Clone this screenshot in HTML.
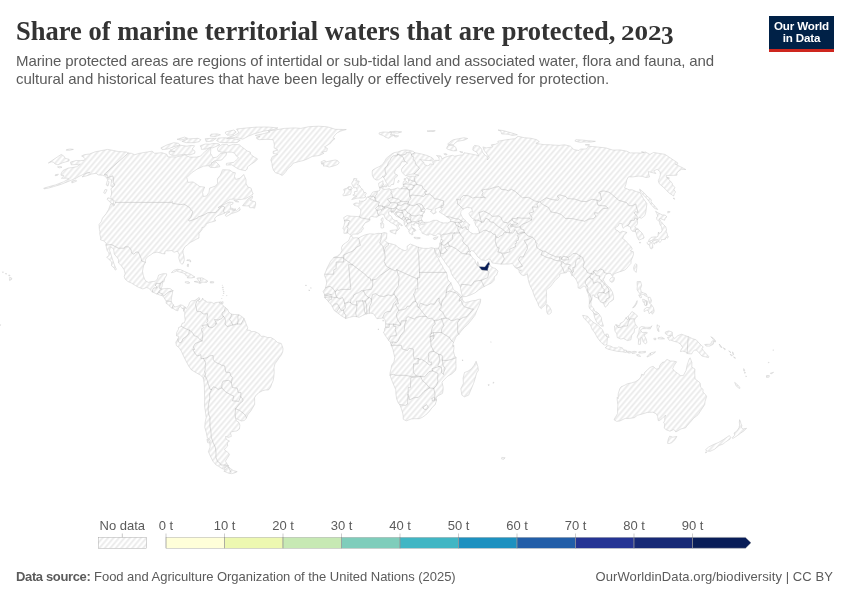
<!DOCTYPE html>
<html lang="en"><head><meta charset="utf-8"><title>Share of marine territorial waters that are protected, 2023</title>
<style>
html,body{margin:0;padding:0;background:#fff;}
body{width:850px;height:600px;overflow:hidden;position:relative;font-family:"Liberation Sans",sans-serif;}
#title{position:absolute;left:15.75px;top:13px;margin:0;font-family:"Liberation Serif",serif;font-weight:bold;font-size:28px;line-height:36px;color:#333;white-space:nowrap;transform-origin:0 0;}
#tm{display:inline-block;transform-origin:0 0;transform:scaleX(0.947);}
#yr{position:absolute;left:605.4px;top:2.3px;font-size:20.5px;transform-origin:0 0;transform:scaleX(1.32);}
#yr3{position:absolute;left:645.6px;top:4.9px;font-size:26px;transform-origin:0 0;transform:scaleX(0.97);}
#sub{position:absolute;left:16px;top:51.8px;margin:0;font-size:15px;line-height:18.2px;color:#5b5b5b;white-space:nowrap;}
#sub span{display:block;transform-origin:0 0;}
#s1{letter-spacing:-0.098px;}
#s2{letter-spacing:-0.03px;}
#logo{position:absolute;left:769px;top:16px;width:65px;height:33px;background:#002147;border-bottom:3px solid #ce261e;color:#fff;font-weight:bold;font-size:11.6px;line-height:11.8px;text-align:center;letter-spacing:-0.15px;}
#logo div{padding-top:4.2px;}
#foot-l b{letter-spacing:-0.36px;}
#foot-l{position:absolute;left:16px;letter-spacing:-0.03px;top:569px;font-size:13px;line-height:16px;color:#5b5b5b;white-space:nowrap;transform-origin:0 0;}
#foot-r{position:absolute;right:17px;letter-spacing:0.08px;top:569px;font-size:13px;line-height:16px;color:#5b5b5b;white-space:nowrap;transform-origin:100% 0;}
svg{position:absolute;left:0;top:0;}
.lt{font-family:"Liberation Sans",sans-serif;font-size:13px;fill:#5b5b5b;}
</style></head><body>
<svg width="850" height="600" viewBox="0 0 850 600">
<defs>
<pattern id="nd" patternUnits="userSpaceOnUse" width="8" height="4.17" patternTransform="rotate(-49.5) translate(0 0)"><path d="M -1,2 l 10,0" stroke="#eaeaea" stroke-width="1.8"/></pattern>
</defs>
<g id="map">
<path d="M107.7,149.4L113.5,150.5L118.6,151.6L126.3,152.0L128.2,153.1L131.3,153.3L134.7,154.7L139.6,153.3L145.9,152.2L152.2,151.2L154.6,153.3L162.0,152.7L166.9,154.4L167.8,156.9L176.3,156.9L180.5,156.0L184.9,154.9L189.7,157.1L196.5,157.1L200.8,156.0L203.0,153.3L209.2,148.2L210.8,148.2L210.7,151.2L210.5,153.3L211.6,155.1L213.0,157.8L216.9,157.1L220.5,153.3L226.8,152.7L225.9,155.5L221.7,160.0L217.9,160.5L214.1,160.9L210.7,164.6L207.3,165.8L203.4,166.2L196.8,169.3L191.6,172.8L186.8,177.6L187.9,182.4L193.0,181.9L195.7,183.6L199.8,186.6L204.7,187.1L202.5,192.3L203.4,196.5L206.6,196.0L209.0,192.3L209.6,188.1L215.4,186.1L217.6,183.6L217.4,178.8L220.3,175.2L222.6,169.7L229.6,170.0L232.9,172.3L235.4,172.8L234.4,176.4L235.7,179.5L240.1,178.1L243.7,174.5L246.0,179.5L246.1,183.6L247.7,186.8L251.1,188.1L251.9,191.0L253.2,194.0L250.2,196.0L245.3,198.8L240.0,199.6L234.2,199.1L230.1,199.3L226.2,201.8L220.6,206.2L218.0,207.7L223.1,204.9L229.1,202.1L233.1,202.4L232.9,203.9L230.1,205.1L230.7,207.4L230.7,209.5L233.5,210.5L236.5,210.8L239.5,207.4L240.2,210.0L237.2,211.8L231.5,213.6L226.5,216.4L225.3,215.6L226.2,213.8L230.0,211.8L227.8,212.0L224.6,212.6L224.3,213.3L219.6,215.1L217.3,215.9L215.2,217.7L214.6,219.0L215.7,220.8L213.3,221.6L209.9,222.4L206.3,223.7L205.8,225.5L203.3,228.1L202.0,227.3L202.2,229.4L199.6,232.8L198.6,233.3L199.1,233.5L198.9,236.9L199.0,238.0L196.1,239.3L193.0,241.1L190.3,242.4L187.5,244.8L184.8,246.8L183.1,250.2L183.0,252.9L183.9,256.0L184.3,259.9L183.3,263.3L181.8,264.3L180.1,262.3L178.7,257.6L179.3,254.7L177.7,251.5L176.4,251.5L174.0,252.3L171.8,250.5L168.4,250.8L166.2,250.8L164.9,251.5L165.0,253.9L162.2,253.6L160.1,252.9L157.0,252.1L153.0,253.1L150.8,254.7L146.9,257.3L145.4,259.9L145.4,262.3L143.5,265.9L142.5,271.1L143.2,275.1L144.5,279.0L145.6,280.8L148.3,282.4L151.8,281.6L155.3,281.3L157.4,279.0L158.6,275.1L163.1,273.7L166.5,273.7L166.7,275.1L164.8,278.2L163.8,282.1L162.7,281.6L162.4,284.2L161.9,286.8L160.5,288.4L162.3,288.9L166.9,288.4L170.3,288.6L172.8,290.7L172.4,293.3L171.6,297.3L171.1,301.2L172.5,303.8L174.2,306.4L175.8,306.9L178.1,306.1L180.5,304.8L182.7,305.4L185.2,307.2L186.2,308.7L188.5,305.6L189.6,302.5L191.5,300.9L195.0,300.4L197.6,298.6L199.1,297.4L199.9,299.1L198.2,300.6L198.8,301.7L199.7,301.4L201.9,299.9L202.7,298.0L203.3,299.9L205.9,300.9L206.6,302.2L211.2,302.2L213.8,303.5L215.5,302.5L220.8,302.0L218.9,302.7L221.8,304.3L223.4,305.6L225.2,307.7L227.4,309.0L228.7,311.9L231.4,314.2L234.4,314.5L238.7,314.8L241.2,316.1L244.0,318.4L245.5,322.1L246.6,325.2L247.8,327.8L246.8,329.9L250.1,330.4L251.7,331.7L254.7,331.5L259.3,333.8L260.9,336.4L263.9,336.2L267.4,337.5L270.9,337.5L274.4,339.6L277.4,342.4L281.3,343.5L282.5,346.9L283.0,348.7L282.8,351.3L281.5,354.7L279.3,357.6L277.6,360.2L274.9,363.9L274.0,367.8L274.2,371.7L273.9,376.4L273.1,380.8L271.9,383.4L270.5,387.4L268.4,390.0L265.1,390.0L262.4,390.8L258.9,392.6L255.8,395.7L254.5,397.8L254.7,401.7L254.6,404.6L252.4,408.3L250.6,411.4L248.3,414.0L246.4,417.9L244.4,420.5L241.3,421.0L236.5,418.7L235.9,420.3L239.0,422.6L239.9,425.2L239.4,429.1L236.9,430.9L231.7,431.7L230.5,433.0L231.4,436.4L228.3,437.4L225.5,436.4L226.4,439.5L229.5,441.1L227.3,442.6L227.7,446.0L225.8,447.8L224.4,449.8L228.5,452.9L229.5,454.7L227.3,458.2L225.4,461.2L228.4,465.8L226.5,466.3L224.2,467.3L224.6,469.5L221.5,468.3L218.6,466.3L216.1,465.0L212.9,461.2L210.4,456.2L208.4,451.6L210.1,447.2L209.8,443.4L210.2,440.3L208.9,438.7L207.4,438.2L206.4,433.0L204.8,427.3L205.1,422.6L206.2,417.4L205.3,410.9L204.5,405.6L204.7,399.1L204.5,392.6L204.3,384.7L203.4,378.0L200.4,375.1L196.7,373.0L191.4,369.9L188.6,365.9L186.1,361.2L183.5,356.0L181.4,351.3L179.2,347.7L176.4,345.6L175.8,342.2L178.0,338.8L178.9,336.4L176.5,335.9L176.7,332.5L178.3,329.6L178.6,327.5L181.1,326.5L181.4,325.2L182.3,323.1L184.4,322.8L185.2,320.0L184.6,315.5L184.9,312.1L183.8,311.1L183.3,308.2L182.6,309.0L180.4,306.4L178.5,308.2L177.9,310.8L175.6,310.1L172.7,308.2L170.7,307.4L168.3,304.6L166.1,303.3L166.2,301.2L163.8,297.3L162.8,295.9L159.4,294.9L156.1,293.6L152.4,292.0L148.7,288.1L146.5,287.6L142.9,288.9L138.5,287.3L135.4,285.5L131.2,282.9L128.0,281.6L125.0,279.0L124.2,276.4L125.1,273.7L124.2,269.8L121.5,265.9L118.4,262.8L118.5,259.4L116.8,257.0L114.3,254.2L113.6,248.9L110.6,246.8L109.5,250.2L110.9,254.2L112.1,258.1L113.4,262.0L114.8,265.9L116.4,269.3L115.1,270.1L114.7,268.5L111.5,265.7L111.8,262.0L109.4,259.9L107.3,257.6L106.7,257.3L109.0,255.5L108.9,252.9L107.2,250.5L106.3,247.1L106.0,245.0L106.2,243.2L104.4,241.6L103.4,240.8L100.5,239.8L100.8,238.0L99.8,234.3L99.9,231.2L99.4,229.9L99.2,226.8L99.1,224.4L101.3,221.6L102.4,218.2L106.0,213.8L108.6,209.5L110.7,203.9L114.0,204.1L113.7,206.2L115.5,202.4L115.2,201.6L113.2,199.8L110.6,197.3L111.5,194.0L111.5,191.0L110.8,188.8L113.1,186.8L110.8,186.1L111.1,183.6L111.6,180.0L109.9,178.8L107.4,179.5L106.5,177.6L104.7,176.1L102.4,175.2L98.0,174.9L96.2,173.3L91.7,174.0L87.1,175.7L82.1,176.9L86.1,173.3L89.9,172.3L87.5,172.8L82.7,174.7L79.0,176.4L76.2,178.1L69.0,181.2L60.9,184.4L53.7,186.6L48.3,188.1L44.6,188.8L43.6,188.3L46.1,187.5L50.2,186.3L55.6,184.9L63.8,181.7L68.8,178.8L66.9,178.1L61.4,178.3L64.1,175.7L60.9,175.2L61.4,172.8L63.1,170.4L68.2,168.1L72.1,167.6L76.8,166.7L80.4,164.1L75.9,164.6L71.2,164.8L70.5,162.1L76.2,160.5L80.2,160.7L84.2,160.3L85.2,158.9L83.9,157.3L81.6,156.0L84.3,154.7L89.5,154.0L95.2,151.8L102.0,150.5ZM228.5,466.8L229.6,468.0L233.2,470.5L237.2,471.7L235.1,472.7L231.7,473.7L228.6,473.2L223.8,471.2L225.2,470.0L226.2,468.8L225.3,467.3L226.7,466.8ZM255.3,135.4L264.3,133.5L270.1,131.9L268.0,131.0L276.1,129.8L284.3,128.4L294.4,127.9L300.9,128.4L308.8,126.7L318.5,126.2L326.5,126.7L330.2,127.6L335.2,129.3L346.3,129.5L340.4,131.2L337.1,132.9L335.2,134.8L333.0,137.7L335.0,138.7L332.3,140.7L331.0,142.7L328.2,144.8L324.5,146.9L327.4,148.4L326.8,151.2L321.7,152.2L323.9,153.3L319.2,155.5L312.3,156.4L307.3,158.9L303.5,160.5L298.8,161.6L293.1,163.2L291.4,165.8L287.8,168.6L285.9,171.6L283.0,174.9L282.0,175.4L278.8,173.7L275.5,172.8L273.6,170.4L272.3,166.9L272.0,163.4L270.8,160.0L272.3,156.7L277.6,154.4L273.0,153.3L273.3,151.2L277.9,150.1L274.1,147.9L274.3,144.8L273.8,141.7L272.8,139.7L267.0,139.3L259.1,139.7L256.8,138.7L256.5,137.3L260.0,136.7ZM245.5,170.7L240.6,169.7L237.6,168.6L234.9,166.9L231.7,164.8L226.3,165.1L226.4,163.4L234.1,162.3L236.3,160.0L238.6,157.8L236.3,156.0L234.7,153.3L232.1,152.2L227.2,152.2L222.2,152.2L218.1,151.2L217.4,149.0L218.4,146.9L222.3,144.4L227.2,144.2L228.2,145.8L233.4,144.4L235.8,144.4L239.4,144.8L241.3,146.5L244.4,148.8L247.1,150.9L250.4,152.2L250.7,154.4L254.3,157.1L257.6,158.9L255.6,161.2L251.6,163.9L247.4,166.9L247.2,169.0ZM171.9,149.6L180.2,145.2L187.0,146.2L191.1,145.4L194.6,145.8L192.2,149.0L195.0,151.2L194.7,153.3L189.9,154.9L183.6,154.4L177.7,155.3L171.8,155.3L169.2,153.8L169.0,151.6L174.8,151.6L169.8,150.1ZM160.9,147.9L167.2,144.8L173.8,142.7L178.5,143.3L179.9,144.8L173.4,146.9L167.7,149.0L162.1,149.6ZM211.1,162.8L215.4,161.6L217.1,163.0L219.2,165.1L219.9,166.7L214.9,167.6L210.6,167.4L208.7,166.2L211.9,164.6ZM200.2,145.8L205.3,144.0L209.9,144.2L212.9,143.5L218.2,143.7L219.9,144.8L212.6,147.9L209.8,147.5L206.0,149.0L201.5,149.4L201.1,147.3ZM181.9,141.3L188.2,138.9L198.1,138.3L200.9,139.7L199.2,141.7L194.1,142.7L186.3,142.7ZM205.2,138.7L211.8,138.3L216.3,138.3L212.3,141.1L206.2,141.7ZM218.1,138.1L224.5,137.7L234.1,138.7L240.3,140.1L237.3,142.5L228.6,142.7L219.6,142.3L216.6,140.7ZM226.5,138.7L235.5,137.3L242.8,139.1L248.6,136.1L253.8,133.9L263.6,131.2L273.6,129.5L277.9,127.9L267.8,127.0L256.7,127.1L246.0,128.0L236.5,129.0L238.0,131.2L238.8,132.9L234.8,135.2L230.1,136.7ZM225.5,132.0L233.9,130.0L236.2,132.0L233.0,134.8L227.4,135.2L225.3,133.3ZM211.0,134.2L217.3,133.9L220.5,134.8L215.4,136.5L210.0,136.1ZM177.0,139.3L184.7,137.1L187.6,138.3L180.5,140.1ZM242.5,205.7L245.2,202.4L248.4,198.6L252.6,196.0L252.2,198.6L250.2,200.3L252.6,201.1L255.4,201.8L255.7,204.1L254.6,208.2L252.7,207.7L249.7,207.7L249.2,205.9L246.1,205.9ZM233.9,200.1L237.6,200.8L238.8,202.1L235.3,201.6ZM231.6,208.0L233.9,209.0L236.0,209.0L234.7,210.0L232.1,209.5ZM107.9,197.8L110.7,198.6L112.8,199.8L113.8,202.9L113.0,204.1L110.7,202.9L108.9,201.1L107.2,199.3ZM105.0,189.6L107.1,189.8L105.2,193.5L103.7,192.8ZM71.8,181.2L76.0,180.0L76.5,181.2L71.9,182.9ZM107.4,180.5L109.1,181.7L108.0,186.1L106.2,184.9ZM171.4,272.7L173.7,270.4L177.2,269.3L180.6,269.6L183.7,271.1L188.0,273.0L191.2,274.5L195.0,277.1L192.0,277.9L187.2,277.9L188.3,276.1L185.9,275.6L184.6,273.5L181.3,272.4L178.5,271.7L176.3,270.9L173.9,272.2ZM194.1,281.6L197.2,282.4L200.0,283.4L202.9,282.1L206.7,282.4L207.8,281.1L205.2,279.5L202.2,277.9L198.1,277.9L196.9,278.4L198.5,280.3L198.4,281.3L196.2,281.3ZM185.2,281.8L188.2,281.6L189.9,282.9L188.0,283.4L185.3,282.6ZM210.4,281.6L213.8,281.8L213.5,282.9L210.3,282.9ZM221.3,302.0L223.1,301.7L223.0,303.5L221.2,303.5ZM187.6,264.1L188.5,264.1L188.4,266.7L187.1,266.2ZM189.7,259.6L190.6,260.7L190.7,262.0L189.8,261.5ZM187.0,259.9L189.0,259.9L188.6,260.7L186.7,260.4ZM206.9,439.2L208.5,439.5L209.5,443.1L207.6,442.6ZM9.7,277.1L11.8,278.2L11.5,279.5L9.6,280.5L9.4,278.7ZM8.6,275.1L10.1,275.3L9.3,276.1ZM5.4,273.5L6.7,273.7L5.9,274.3ZM2.4,271.9L3.5,271.9L2.9,272.7ZM57.5,166.9L61.1,166.5L62.0,167.4L59.2,167.8ZM55.4,174.7L58.4,174.2L57.5,175.4L55.2,175.7ZM222.2,287.3L223.4,287.1L222.8,288.1ZM222.8,289.2L223.3,289.4L223.0,290.2ZM223.3,291.2L224.1,291.5L223.7,292.3ZM223.5,293.2L223.8,293.6L223.4,294.0ZM226.6,295.2L227.0,295.6L226.6,295.8ZM221.6,298.0L221.9,298.3L221.6,298.6ZM222.9,295.0L223.2,295.3L222.9,295.6ZM222.2,285.1L222.6,285.2L222.3,285.5ZM435.1,251.5L434.4,248.4L438.5,248.2L439.6,245.8L439.8,243.7L440.6,241.4L441.2,238.5L440.5,235.1L441.3,234.1L439.8,234.3L437.8,233.8L436.0,235.4L433.7,235.6L431.1,234.1L429.1,233.8L428.9,235.1L426.5,235.1L424.0,233.8L422.2,233.3L421.8,231.5L419.9,229.6L420.4,228.1L418.9,226.8L418.8,225.5L421.5,224.4L424.6,224.2L425.1,222.9L424.4,222.4L424.2,222.9L421.3,222.9L419.9,223.9L418.7,224.7L418.3,223.7L416.0,223.1L414.7,223.1L414.0,224.4L414.7,225.2L412.8,225.0L411.7,224.2L411.2,225.5L412.2,227.3L412.7,228.9L414.6,230.2L414.7,231.5L413.4,230.9L412.8,232.2L412.8,234.6L411.7,234.8L410.6,233.8L409.9,233.8L408.7,231.2L409.2,230.2L408.1,229.4L407.3,228.1L406.1,226.5L405.4,225.7L404.3,224.4L404.1,222.1L404.2,220.8L403.0,219.8L401.9,219.3L399.7,217.7L396.5,216.4L394.7,214.6L393.9,212.6L392.6,211.8L391.9,213.1L391.1,211.3L390.1,210.8L388.5,211.8L388.8,214.4L391.5,216.4L392.9,219.3L395.3,220.6L397.2,220.6L396.9,221.8L399.5,223.1L402.4,225.2L402.0,226.0L399.6,224.4L399.0,224.4L398.2,226.3L399.6,228.1L398.5,229.6L396.8,230.9L396.8,230.2L397.5,228.1L396.5,225.5L395.0,225.0L393.6,223.9L392.7,223.4L390.6,222.4L388.8,220.8L386.2,219.3L385.1,217.7L384.3,215.4L382.8,214.4L381.6,214.1L379.7,215.4L378.5,215.9L376.9,217.2L374.4,216.9L371.9,216.4L369.6,217.5L369.8,219.3L369.8,220.6L367.7,221.8L365.0,222.9L363.7,225.0L362.5,226.8L363.5,228.6L361.8,230.7L361.6,231.7L359.2,232.8L358.3,234.1L353.6,234.1L351.4,235.6L349.5,234.3L348.0,232.8L346.1,233.3L343.9,233.3L344.2,229.6L342.8,228.6L344.0,225.5L344.7,222.4L344.4,220.0L343.6,217.7L346.0,216.2L347.1,215.6L351.0,216.2L355.2,216.4L359.3,216.7L360.6,213.6L360.8,211.0L360.6,209.5L358.8,207.4L357.4,206.2L354.4,205.4L353.4,203.9L356.0,202.9L359.1,203.4L359.9,203.1L359.5,200.6L360.7,201.3L363.3,201.1L366.1,199.6L366.3,197.8L368.1,197.0L369.6,196.3L371.0,195.0L372.3,192.5L373.7,191.8L376.6,191.3L379.1,190.8L380.0,190.1L379.7,187.6L378.8,185.9L378.7,183.2L381.1,181.9L383.0,180.7L382.9,183.6L383.9,184.1L382.3,186.1L381.8,187.3L382.4,188.6L384.4,189.3L386.6,189.3L389.2,188.6L390.9,189.8L394.1,189.1L397.8,187.8L399.5,188.8L401.4,188.6L401.7,187.6L403.5,186.6L403.1,182.9L403.8,181.2L405.6,180.7L407.2,182.2L408.7,182.4L408.8,179.3L406.9,178.3L406.7,177.1L409.0,176.4L412.1,176.1L414.9,176.4L416.5,175.2L418.8,175.4L416.4,174.5L414.4,174.0L410.8,174.2L408.9,174.9L405.6,175.7L403.8,174.2L401.9,172.3L401.4,169.3L403.1,166.7L406.1,163.9L407.6,163.2L405.2,161.6L401.7,161.8L400.6,164.4L399.5,166.2L396.3,168.6L394.7,171.6L394.6,173.5L397.7,175.2L396.7,176.9L394.5,178.5L394.2,181.2L393.6,184.4L391.2,184.6L390.4,186.3L388.1,186.3L387.5,184.4L385.7,181.5L384.2,178.1L383.5,177.3L382.7,175.9L382.2,177.3L380.8,178.1L378.5,179.8L376.2,180.0L373.7,178.3L372.3,175.2L372.2,171.6L372.7,170.0L375.6,168.3L378.6,166.9L380.8,165.8L382.9,163.7L384.8,161.2L386.2,158.4L388.2,156.7L390.1,155.3L392.3,153.6L394.6,152.5L397.9,152.0L401.7,150.5L405.3,149.9L409.0,150.3L413.4,151.4L414.6,152.7L418.1,153.3L421.7,154.0L427.2,155.5L432.2,157.8L433.7,159.6L431.5,160.7L427.1,160.5L422.6,160.0L419.8,159.3L421.0,160.5L423.8,162.3L424.4,164.6L427.7,165.8L429.7,165.1L429.8,163.9L433.5,164.4L432.6,161.6L435.6,160.3L439.2,160.5L439.0,157.8L436.5,155.5L440.9,156.0L442.0,158.9L444.8,157.3L447.8,156.4L452.4,155.3L454.5,156.2L459.1,155.3L463.1,154.9L464.1,152.7L471.0,154.0L475.7,154.9L478.9,156.0L476.7,152.2L472.8,150.1L473.2,146.9L474.6,145.4L479.2,146.2L481.6,149.0L482.5,152.2L485.4,155.5L488.1,157.1L487.3,160.0L489.3,157.8L487.2,154.4L484.0,150.1L482.9,146.9L486.1,147.9L489.0,147.5L492.5,146.9L491.3,144.8L495.8,144.2L498.4,142.7L497.8,141.3L504.3,140.1L509.5,139.3L514.9,138.7L518.0,136.3L524.3,137.7L531.1,138.3L536.7,139.7L539.4,141.7L535.9,143.3L540.8,144.2L543.7,144.6L550.3,144.8L559.0,145.4L564.6,144.8L570.4,146.2L573.9,149.6L579.0,150.5L580.4,149.0L586.1,149.0L587.9,147.3L588.1,146.2L592.4,146.5L598.1,147.1L605.8,147.9L612.9,150.1L620.0,149.9L626.8,151.2L630.1,152.9L636.0,152.9L641.3,153.1L645.4,152.0L649.9,154.4L653.6,152.5L660.3,153.6L665.0,154.4L677.9,163.0L677.3,164.4L675.2,164.1L680.8,166.9L685.8,169.5L681.4,169.3L679.1,170.9L677.0,172.8L676.9,175.2L670.2,175.4L666.5,175.4L666.2,177.1L669.9,180.5L672.2,183.2L672.5,184.9L674.8,187.3L673.9,189.8L675.7,192.0L674.4,193.3L673.7,196.0L668.8,192.8L664.9,188.6L659.2,183.6L658.3,180.5L659.7,177.6L660.4,174.5L660.0,171.6L657.1,169.3L653.7,170.9L655.9,173.5L648.2,171.6L649.2,175.7L649.6,176.9L645.8,177.6L642.6,176.4L638.7,176.1L632.9,176.9L628.3,176.9L626.8,180.0L626.0,184.1L624.6,187.8L629.2,189.8L632.1,189.8L636.8,191.8L639.8,192.3L641.3,194.8L643.4,198.6L646.9,203.6L646.3,208.0L645.9,211.8L644.8,215.6L641.6,218.2L638.9,217.5L637.7,219.3L637.3,220.8L637.6,223.1L636.7,225.0L634.7,226.5L635.3,227.6L638.0,229.1L642.0,233.0L643.6,235.9L644.1,238.0L641.7,239.0L638.9,240.1L637.2,237.2L636.4,233.8L635.5,231.5L632.3,231.2L630.7,229.1L630.3,227.0L627.7,225.7L625.1,226.5L623.1,228.3L622.1,225.5L622.0,223.7L619.3,223.4L618.1,226.0L615.1,227.8L615.3,229.6L618.3,230.9L619.5,232.8L622.5,231.2L627.1,232.5L624.6,234.6L623.7,235.9L622.6,238.5L625.4,240.6L628.1,243.7L631.1,246.6L632.3,249.2L630.2,250.8L633.4,251.8L633.4,254.7L632.7,256.8L631.1,260.7L631.0,263.3L628.7,265.9L626.6,268.5L624.6,270.1L621.0,271.4L619.3,271.9L616.1,273.0L613.0,274.5L612.9,276.6L611.5,275.3L610.8,273.5L607.8,273.5L605.1,275.1L604.8,276.9L603.2,279.8L605.3,283.4L608.1,286.5L610.1,288.1L612.4,292.0L613.6,296.5L613.5,299.6L610.9,301.4L608.7,302.7L608.0,304.8L605.2,307.2L603.8,304.3L603.0,302.7L600.7,302.2L599.0,299.3L597.3,297.8L594.4,296.7L594.0,294.9L592.0,295.2L592.1,298.6L591.0,301.7L591.0,305.6L593.5,308.0L594.6,311.1L597.0,312.1L599.1,314.2L601.3,317.4L601.7,320.8L602.9,324.2L603.4,326.2L601.6,326.2L598.3,323.9L596.7,322.1L595.2,318.9L594.1,315.5L593.8,312.9L592.3,311.1L589.6,308.5L589.0,306.4L589.4,302.5L589.3,298.6L588.5,294.6L587.0,291.2L585.8,287.3L584.0,285.8L582.0,287.3L580.5,288.6L578.1,287.9L578.1,284.2L576.5,280.3L575.0,277.9L572.4,275.3L571.0,273.5L570.2,271.4L567.7,270.9L566.4,272.7L564.1,273.0L561.9,273.2L559.8,274.0L559.6,276.1L558.0,277.9L555.9,279.5L553.0,283.2L550.6,286.5L547.9,288.6L546.2,290.2L546.6,294.6L546.2,298.6L546.3,303.0L544.6,305.6L542.8,306.7L541.3,308.7L538.9,306.4L537.6,302.5L535.5,298.6L533.8,294.6L532.6,290.7L530.6,286.8L529.1,282.9L528.3,279.8L527.7,276.4L527.4,273.7L526.4,274.5L523.8,275.6L521.4,274.8L518.8,271.7L521.6,270.1L518.7,270.4L517.3,268.3L515.0,267.5L513.5,264.9L512.2,263.6L507.8,264.1L502.2,264.1L501.3,264.1L496.5,263.6L492.0,262.8L490.5,259.6L488.8,259.1L485.6,260.4L481.6,259.9L477.9,257.0L476.0,254.2L473.8,251.3L471.5,250.5L470.5,251.5L469.6,252.9L470.8,255.5L472.9,258.1L475.1,260.4L475.6,262.8L477.2,265.1L477.7,261.7L478.9,264.6L478.9,266.4L481.2,266.7L484.6,267.0L485.6,265.9L487.2,263.8L488.5,262.0L489.3,261.2L489.7,264.6L490.6,266.4L493.7,268.0L495.5,268.5L498.0,271.1L496.6,275.1L494.4,276.6L494.1,280.3L491.6,282.9L488.9,284.2L486.1,285.5L482.1,287.6L478.4,290.2L475.1,292.8L471.8,294.4L466.2,296.5L462.7,296.7L462.0,294.6L460.9,290.7L460.4,286.8L459.1,284.2L456.2,280.3L453.0,276.4L451.5,273.7L449.8,268.5L446.9,265.1L444.8,262.0L442.3,258.1L440.6,256.3L440.7,252.9L439.6,257.3L437.6,255.5L435.6,252.1ZM61.2,154.4L63.8,156.0L65.3,158.4L69.1,159.3L69.1,160.9L62.6,162.8L58.0,164.8L54.9,163.9L53.6,162.3L51.7,161.8L48.3,163.0ZM66.5,149.6L70.1,149.0L73.4,149.4L69.5,150.3L66.3,150.3ZM351.7,199.6L354.7,198.8L357.1,198.1L360.1,198.1L363.7,197.8L365.9,196.8L364.7,196.0L366.4,193.3L365.6,192.5L363.7,192.3L363.3,190.8L362.7,189.3L360.8,188.1L360.0,186.1L358.9,184.9L357.0,184.9L358.2,183.6L359.3,181.2L356.5,180.7L355.6,181.0L357.1,178.8L353.8,178.5L353.3,180.5L352.1,182.4L351.7,183.6L352.6,185.4L353.1,186.6L353.8,187.8L356.4,187.6L356.9,189.6L357.2,191.3L354.7,191.5L354.3,192.8L355.0,194.0L352.8,195.0L354.6,195.8L356.8,196.3L356.2,196.8L354.2,197.0ZM343.3,195.8L346.3,195.5L350.5,194.3L351.2,191.8L351.1,189.8L352.3,188.6L351.2,186.8L348.7,186.6L346.7,188.3L343.7,189.3L344.5,191.5L344.4,193.3L342.8,194.5ZM320.8,162.1L324.2,160.3L326.6,161.8L331.1,160.7L335.5,160.0L337.7,160.7L339.3,163.0L337.0,164.8L332.9,166.2L329.2,167.1L325.9,166.0L323.0,166.0L324.3,164.8L321.0,163.7L323.7,163.2ZM379.0,132.9L383.2,132.0L387.5,132.2L392.0,132.9L390.2,134.4L394.8,135.0L391.4,136.3L388.8,138.3L385.6,137.3L383.1,135.5L379.2,134.2ZM389.5,131.7L395.8,131.3L401.7,131.9L397.8,133.1L392.7,132.8ZM394.1,135.4L398.7,135.9L396.8,137.1L394.5,136.7ZM446.6,148.4L447.7,145.8L449.7,145.0L453.0,145.2L455.8,147.3L456.8,150.7L453.6,150.9L450.8,150.3L448.0,149.4ZM447.6,144.2L450.1,141.7L453.4,139.7L458.7,138.7L464.0,137.7L467.7,138.5L464.4,140.1L457.6,141.3L454.9,143.1L453.5,144.8L450.5,145.0ZM427.0,131.0L430.9,130.5L435.3,130.8L433.0,131.5L428.7,131.5ZM501.6,133.9L501.0,131.2L498.0,130.0L502.9,130.5L512.2,133.1L517.4,134.8L512.3,135.4L507.9,134.2ZM574.9,141.1L575.8,139.7L582.6,140.1L588.2,140.7L595.4,141.3L590.5,142.1L584.0,141.9L579.9,142.3ZM585.2,144.8L589.3,144.4L589.3,145.4ZM639.6,189.1L643.5,192.3L646.9,196.0L651.4,199.8L651.0,201.8L654.9,206.2L657.7,209.5L654.9,208.5L651.7,205.4L648.8,201.1L645.8,197.3L641.8,193.5L640.0,191.0ZM659.1,221.6L660.5,220.8L658.9,219.0L660.8,218.7L664.6,220.3L665.4,217.7L667.0,216.9L665.1,215.1L662.4,214.9L658.9,213.3L655.6,211.3L657.0,213.8L657.8,216.4L656.7,217.2L656.8,219.3ZM661.3,221.8L663.2,224.2L665.8,226.8L666.5,229.9L666.1,231.2L667.1,233.5L667.6,235.9L668.4,236.7L667.5,238.2L666.6,237.4L665.6,238.0L665.3,239.3L664.2,239.5L661.5,239.5L661.7,240.3L660.8,241.4L660.2,242.4L658.2,241.4L657.6,239.5L654.9,239.3L652.1,240.3L649.1,241.1L648.6,240.3L649.4,239.3L651.2,237.4L654.5,236.9L656.6,236.9L657.9,236.4L658.2,233.5L658.5,232.0L658.7,233.5L661.3,232.2L662.1,230.2L661.5,226.8L659.8,224.2L659.5,222.4ZM649.0,241.4L651.1,242.1L652.6,244.2L652.8,247.9L651.5,248.7L650.2,248.2L649.5,245.0L647.6,244.2L647.0,242.7L648.1,241.6ZM652.4,241.1L655.4,240.3L657.5,241.6L656.9,242.9L654.8,242.7L654.6,244.2L653.0,242.9ZM635.7,263.8L637.0,264.6L636.7,268.5L636.1,272.4L634.1,270.4L633.6,267.7L634.7,264.6ZM609.7,279.5L611.2,277.7L614.4,277.7L614.0,280.8L612.0,282.4L610.0,281.3ZM546.6,304.6L547.6,304.8L549.8,307.4L551.3,310.3L551.2,312.7L549.6,314.0L547.8,314.2L546.8,312.1L546.6,309.0ZM389.9,230.7L392.1,230.2L396.5,229.9L395.9,232.8L395.7,234.1L394.2,233.5L390.0,231.7ZM380.5,223.1L382.5,222.4L383.7,224.2L383.6,227.6L382.3,228.1L381.0,227.8L380.9,224.7ZM381.1,219.0L382.8,217.7L383.1,219.8L382.7,221.8L381.4,221.1ZM414.1,237.2L416.3,237.4L420.2,237.7L420.1,238.5L416.8,238.8L414.2,238.0ZM433.3,238.2L434.8,237.4L438.1,236.7L437.0,238.5L435.0,239.5L433.7,239.3ZM397.6,182.4L398.6,180.2L399.1,181.2L398.2,182.7ZM384.5,185.6L386.0,184.6L387.2,185.6L386.6,186.8L384.6,186.8ZM381.9,186.1L383.6,186.1L383.9,187.1L382.3,187.1ZM404.0,178.8L406.0,178.5L405.6,179.5L404.4,180.0ZM412.7,228.1L414.9,229.1L415.9,230.7L414.5,229.6ZM443.8,153.8L446.2,153.6L447.1,154.7L445.0,154.9ZM459.7,151.6L463.0,152.0L462.1,152.9ZM673.1,198.3L674.3,198.1L674.6,199.3ZM667.8,211.3L670.2,211.8L667.8,213.1ZM666.9,177.3L669.3,177.8L669.1,178.8ZM639.2,242.4L640.7,242.4L640.2,243.2ZM641.3,152.0L643.4,151.8L643.9,152.7ZM435.1,251.5L434.4,248.4L431.4,247.6L428.8,248.4L423.8,248.4L418.6,247.4L414.8,245.8L410.2,244.0L407.1,246.3L407.3,249.5L405.1,250.8L401.8,249.5L397.2,246.8L396.1,245.3L392.0,244.0L388.3,243.2L386.1,241.9L384.9,240.6L386.6,238.5L386.8,233.8L386.8,233.0L385.1,232.8L384.2,232.5L381.4,233.5L378.2,233.3L374.5,234.1L369.6,233.8L365.3,234.8L360.9,236.7L358.3,238.2L356.6,237.7L353.3,238.0L351.6,236.1L350.3,236.4L349.4,239.0L348.3,241.1L345.6,242.9L342.7,245.0L341.5,247.6L341.9,250.5L340.5,253.4L337.5,256.0L334.1,257.3L330.6,261.2L327.1,268.0L324.7,274.3L324.5,275.6L326.1,279.0L326.7,282.9L325.5,288.1L323.1,291.5L324.7,294.6L324.8,297.8L327.5,300.4L329.1,302.5L331.6,305.1L332.8,307.7L334.3,310.6L336.6,312.1L338.2,313.4L341.7,316.1L345.8,318.4L349.3,317.4L353.9,316.3L357.3,316.8L359.0,317.4L362.6,315.5L365.9,314.0L368.9,313.2L370.9,313.2L373.5,313.7L375.3,316.3L376.9,318.7L379.2,318.4L382.2,318.1L383.6,318.1L385.0,319.7L385.7,323.4L385.5,327.3L384.6,328.6L384.6,331.2L383.4,332.0L385.0,335.1L386.8,337.7L388.5,340.1L390.5,342.4L391.4,345.6L393.0,349.5L393.7,352.9L394.8,357.3L394.0,362.0L391.7,365.2L391.0,369.1L390.0,373.0L390.0,375.1L391.5,379.5L393.6,384.7L395.8,389.7L395.9,393.9L396.7,399.1L398.3,403.0L399.8,404.6L401.2,408.3L402.7,413.0L403.2,416.1L403.2,419.2L405.6,420.5L406.6,420.8L411.1,419.0L414.4,418.7L419.2,418.7L422.2,417.4L425.7,415.0L429.3,411.4L431.8,408.0L435.2,404.6L436.6,400.2L436.1,397.5L438.3,395.7L442.5,393.4L443.1,390.0L443.1,386.8L442.0,382.1L444.8,379.0L447.3,376.4L451.9,373.8L455.5,370.4L456.1,367.8L455.9,363.3L456.0,357.8L454.5,355.5L453.5,351.6L454.0,347.7L452.7,345.6L453.2,343.0L454.4,340.6L456.0,336.7L458.8,334.3L461.1,331.2L464.6,327.3L467.6,324.7L471.4,320.0L474.8,315.5L477.0,310.3L479.1,305.6L480.4,302.5L480.7,299.1L478.9,299.3L475.5,300.4L472.1,300.9L468.7,301.7L465.3,302.7L462.9,300.6L462.2,299.6L462.3,297.8L461.8,296.7L460.4,295.2L458.0,292.6L454.9,290.7L453.2,289.2L452.4,286.8L450.9,282.9L448.9,281.1L447.5,278.7L447.3,275.1L446.2,272.4L443.5,268.5L442.4,265.9L439.9,262.0L438.6,258.6L436.6,256.0L435.2,252.9ZM476.1,361.2L477.9,366.5L478.4,370.4L476.6,373.0L475.6,376.9L473.6,383.4L470.8,390.0L468.6,395.2L464.4,396.8L461.9,395.2L460.8,388.7L463.4,383.4L463.1,378.2L464.5,372.5L468.0,371.2L471.6,368.6L474.1,365.2ZM453.4,345.0L454.1,345.6L454.0,346.6L453.4,346.4ZM382.7,320.2L383.6,320.2L383.2,321.3ZM462.2,359.9L462.9,359.9L462.6,361.0ZM493.2,382.1L494.0,382.7L493.3,383.4ZM488.2,384.5L489.3,384.7L488.6,385.8ZM308.8,289.9L309.7,290.2L309.2,291.0ZM305.5,285.2L306.4,285.2L305.9,286.0ZM310.7,287.6L311.3,287.9L310.9,288.4ZM378.1,328.9L378.8,329.1L378.3,329.9ZM501.8,457.4L505.1,457.7L504.0,459.2L501.6,459.0ZM490.8,341.7L491.2,341.9L490.9,342.4ZM690.1,357.8L691.9,362.5L691.8,367.2L695.0,369.1L694.7,373.0L695.1,379.0L697.6,380.8L700.1,382.9L700.7,387.4L703.1,389.4L702.9,392.1L705.6,394.7L706.6,396.5L705.1,401.2L704.7,404.6L701.4,409.6L698.0,414.8L693.7,418.2L690.6,421.8L686.9,426.0L685.6,427.8L681.0,428.9L675.8,432.0L674.4,429.9L673.5,429.6L670.0,431.2L666.5,429.9L664.2,428.1L664.8,423.9L663.6,422.9L664.7,420.5L664.8,417.4L665.6,415.0L662.5,418.2L659.1,420.8L658.2,420.5L657.7,416.6L656.6,414.0L652.9,412.2L647.3,412.4L642.3,414.0L637.4,415.3L634.3,417.7L629.6,418.4L625.2,418.4L619.8,421.0L616.5,421.3L614.0,419.7L615.3,417.4L617.6,413.5L617.6,409.0L617.9,404.9L617.2,399.9L617.2,397.3L618.2,398.6L618.2,393.9L619.8,388.7L621.1,386.8L624.2,385.5L627.5,383.7L631.5,382.9L635.1,381.9L638.9,379.5L640.9,376.9L641.6,374.3L643.8,375.1L644.6,372.5L647.3,369.9L650.0,367.5L653.1,366.2L655.5,368.6L656.1,369.1L659.0,368.6L659.9,365.2L662.1,362.5L664.5,361.8L667.0,359.4L670.3,361.0L673.7,361.2L676.6,361.8L674.3,365.2L672.7,368.6L674.5,371.2L677.6,373.3L680.5,375.6L683.3,375.6L686.1,370.4L687.1,365.2L688.0,362.5L689.4,358.6ZM669.7,436.1L672.8,437.2L676.9,436.4L675.1,439.5L671.9,442.6L669.1,443.6L667.6,443.4L667.9,440.8L668.6,438.2ZM739.6,419.7L740.4,421.3L741.0,423.9L741.8,425.5L741.4,427.8L743.3,428.9L746.6,428.3L744.0,430.9L740.8,433.0L737.4,435.6L732.7,438.5L732.2,437.7L734.8,435.1L734.0,433.0L736.7,431.2L739.0,427.8L739.6,425.2L739.3,422.1ZM729.4,435.6L730.7,437.4L729.8,439.2L725.4,442.1L722.9,444.2L719.2,445.4L714.5,449.3L710.2,451.3L707.3,451.1L705.5,449.8L708.4,447.2L713.1,444.7L718.3,442.6L723.5,439.5L727.3,436.9ZM705.8,451.8L706.9,452.1L705.4,452.9ZM665.3,332.0L668.8,330.9L672.2,332.0L672.6,336.4L674.8,338.5L677.9,335.6L681.4,334.3L684.8,335.4L688.2,336.7L692.8,338.8L696.2,339.8L699.0,343.0L701.6,345.6L703.3,347.1L701.9,348.2L703.5,350.8L706.6,354.2L708.7,356.5L708.5,357.6L705.2,356.8L701.8,356.0L699.8,353.4L696.6,350.3L694.4,350.0L692.6,352.1L691.7,353.9L688.3,353.7L686.1,352.1L682.8,351.1L680.4,351.6L681.3,349.0L682.6,347.7L680.9,344.5L677.6,342.2L674.2,341.4L670.8,340.1L669.2,340.3L667.4,337.5L670.9,336.4L671.7,335.4L668.2,335.6L665.3,333.6ZM704.7,344.5L707.4,344.3L710.4,344.3L712.2,340.9L714.1,341.1L713.2,344.3L709.6,346.1L706.2,346.1ZM710.8,336.7L713.5,338.3L715.7,341.1L715.2,342.2L713.0,339.0ZM719.2,344.0L721.1,346.1L721.9,347.7L720.4,346.9ZM723.3,347.7L725.5,349.2L724.7,349.7ZM728.8,350.8L730.9,352.4L730.0,352.4ZM730.1,354.2L732.4,355.5L731.3,355.8ZM732.6,351.8L733.7,354.7L733.0,354.7ZM733.7,356.8L735.6,358.1L734.4,358.1ZM743.7,368.6L744.7,370.4L743.7,370.9ZM744.7,371.7L745.5,373.0L744.6,373.3ZM745.8,375.9L746.6,376.4L745.8,376.6ZM734.7,382.4L737.5,384.7L739.8,387.4L739.9,388.4L737.9,387.6L735.8,385.3ZM766.5,375.6L769.3,375.6L769.1,377.2L766.5,377.4ZM770.3,373.3L773.5,372.2L772.0,373.8ZM582.6,315.3L587.7,316.3L590.1,319.5L593.7,322.6L597.2,324.7L600.7,327.8L602.6,329.9L604.1,333.8L607.5,337.7L607.1,341.7L606.8,345.0L604.0,345.0L600.4,341.7L597.1,337.2L594.9,333.0L592.0,329.1L590.5,325.2L587.2,321.5L583.9,318.1ZM605.2,347.7L607.6,345.6L610.6,346.1L613.5,347.7L617.4,347.9L618.6,346.9L622.5,347.9L623.1,349.7L626.5,350.3L626.3,352.6L622.2,351.8L617.2,351.3L612.7,350.3L608.1,349.2ZM614.5,326.0L616.1,324.7L619.6,326.0L620.2,323.4L623.6,321.5L625.8,318.1L629.1,315.5L631.9,311.6L634.1,312.9L637.7,316.1L635.0,318.7L634.4,320.8L635.2,323.9L637.6,327.3L634.6,328.6L634.1,332.5L631.8,335.1L630.9,339.8L627.4,340.6L623.6,338.5L620.8,339.0L617.2,337.5L616.8,333.8L615.0,331.2L614.6,328.6ZM639.5,327.8L641.7,326.5L645.7,327.3L650.3,327.3L651.9,325.7L650.3,328.9L646.8,328.6L642.9,328.6L640.4,329.9L642.2,332.5L646.8,332.3L647.5,333.0L644.0,334.9L646.2,339.0L647.0,342.4L645.3,344.0L643.1,341.7L642.1,337.7L640.9,337.7L640.4,344.3L638.3,344.3L638.6,339.0L637.0,337.2L638.8,332.5ZM657.1,324.7L658.3,325.7L659.7,326.0L658.4,328.6L659.1,331.7L657.7,330.7L657.0,327.3ZM658.2,337.7L661.7,337.2L664.6,338.8L661.6,339.0L658.2,338.8ZM653.8,338.3L655.9,338.3L655.8,339.8L654.0,339.6ZM646.9,356.8L649.2,354.2L651.6,352.6L655.6,351.8L653.8,353.4L650.2,355.5L647.8,356.8ZM638.8,351.8L641.3,351.8L645.5,351.3L645.4,352.6L641.2,353.1L638.7,352.9ZM631.7,351.8L634.5,351.3L636.7,351.8L635.5,353.1L632.0,353.4ZM636.5,354.7L639.2,354.7L640.5,356.5L637.5,356.0ZM626.6,351.3L628.9,351.3L631.2,351.8L630.4,353.1L627.9,352.9ZM637.1,281.6L640.7,281.6L641.6,285.5L640.5,288.6L641.2,292.0L643.2,292.8L646.3,293.9L647.3,296.7L645.4,295.9L643.4,294.4L640.4,294.1L638.8,292.6L637.0,289.4L637.3,286.8ZM651.1,304.3L653.5,307.7L654.2,311.1L653.4,313.2L652.1,314.2L651.5,311.6L649.1,313.7L648.4,310.8L646.8,310.1L644.1,311.6L644.2,309.3L646.8,307.4L649.3,307.7L650.4,306.4ZM647.9,297.3L650.2,297.3L651.5,300.6L650.6,303.3L649.4,303.3L648.7,300.4ZM642.6,299.1L645.2,299.9L646.6,302.5L646.2,305.9L644.5,305.1L644.3,302.2L643.1,302.2ZM646.4,300.6L647.6,301.2L647.1,305.1L646.4,305.1ZM632.6,308.0L635.3,304.3L637.2,300.6L637.0,303.0L634.8,306.7ZM638.7,294.9L640.7,294.9L641.5,297.5L640.1,297.8ZM605.7,334.1L608.0,334.1L609.1,337.5L607.3,337.0ZM-0.4,324.7L0.6,324.7L0.3,325.5ZM773.1,349.7L773.7,350.0L773.2,350.5ZM768.4,362.3L769.1,362.5L768.5,363.1ZM-32.4,364.9L-31.0,365.2L-31.5,365.9ZM-33.7,384.7L-32.9,385.0L-33.2,385.5ZM424.4,222.4L429.6,222.1L433.6,220.3L437.2,220.3L440.2,222.1L443.5,222.9L447.7,222.9L450.8,221.3L450.2,219.0L446.6,216.7L443.0,214.1L440.2,212.6L439.1,211.8L440.3,210.8L441.7,209.5L440.9,208.2L443.3,206.9L439.7,207.4L435.4,208.7L435.2,210.8L436.4,212.0L435.6,213.1L433.0,214.1L432.4,212.6L430.3,211.5L431.9,210.0L428.7,209.2L426.6,208.5L424.8,210.5L424.4,212.0L422.7,214.4L422.5,216.4L421.5,218.2L421.2,219.0L422.0,220.6L423.3,221.8ZM469.6,232.0L473.2,233.8L476.4,233.8L479.6,233.3L478.1,228.1L475.8,225.5L474.7,222.4L475.6,220.3L473.2,219.0L470.7,216.9L468.9,213.8L470.4,211.8L472.5,211.8L471.5,208.0L467.3,207.4L463.5,208.7L461.0,211.3L460.6,213.8L462.5,217.7L465.1,220.3L468.0,223.7L469.9,224.7L468.6,226.8L468.1,229.4Z" fill="url(#nd)" fill-rule="evenodd" stroke="#c9c9c9" stroke-width="0.5" stroke-linejoin="round"/>
<path d="M128.2,153.1L104.1,174.5L107.2,174.9L107.2,177.8L112.7,175.9L113.7,178.8L113.1,182.4L114.8,184.9L113.1,186.8M115.5,202.4L171.2,202.4L172.4,201.6L172.0,203.1L175.9,203.9L180.6,204.6L184.0,204.1L189.8,207.7L190.0,208.7L191.5,210.0L192.8,211.8L190.7,217.7L188.5,219.8L189.3,221.1L192.9,219.8L197.6,218.2L198.1,216.9L200.5,216.2L204.1,214.9L208.0,212.6L215.3,212.6L217.1,211.5L218.8,209.5L219.9,208.2L222.2,206.3L223.9,206.5L224.7,207.2L223.5,210.8L223.9,212.0L224.4,213.1M106.0,245.0L111.4,244.5L118.3,248.2L124.5,248.2L124.9,246.8L128.6,246.8L131.2,250.0L131.4,252.6L133.8,254.2L135.9,252.1L138.4,252.1L139.6,254.9L141.1,258.1L141.6,261.0L145.4,262.3M152.4,292.0L152.6,289.9L154.0,287.9L157.0,287.9L156.8,286.8L155.0,285.0L156.0,284.8L156.1,283.4L160.2,283.4L162.5,281.6M160.2,283.4L159.6,288.4L160.3,288.4M161.9,288.9L159.4,290.7L158.9,292.3L157.0,294.0M158.9,292.3L160.7,293.3L162.3,293.6L162.2,294.9M163.2,295.9L164.7,295.2L166.4,293.6L168.9,291.8L171.2,291.4L173.1,290.7M166.5,300.9L168.8,301.2L171.0,301.4M172.2,308.2L172.6,306.1L173.4,304.8M200.4,278.4L200.3,280.8L199.5,281.6L200.0,282.8M185.2,307.2L183.8,311.1M199.6,299.1L196.8,301.2L195.4,305.1L196.4,307.7L196.5,310.3L197.4,311.6L200.9,311.6L203.1,314.0L207.7,313.7L206.9,318.1L208.0,321.0L206.8,322.6L208.8,326.8M208.8,326.8L207.4,324.7L202.1,325.5L203.5,327.3L202.8,328.3L201.6,328.6L201.6,330.4L203.0,333.0L202.0,340.9M202.0,340.9L200.1,339.8L197.1,336.4L194.3,335.9L192.4,332.5L189.4,330.2M189.4,330.2L186.6,329.1L184.3,328.1L181.3,326.2M189.4,330.2L188.7,333.8L186.2,336.7L182.8,338.8L181.8,341.9L179.9,343.0L178.1,341.4L178.0,338.8M202.0,340.9L195.2,343.5L193.2,346.9L194.7,349.5L192.8,349.5L195.4,353.9L197.3,356.0L200.9,354.7L201.1,358.6L203.4,358.5M203.4,358.5L205.7,362.5L205.2,365.7L205.1,369.9L204.4,372.2L205.9,373.5L205.0,375.6L203.4,378.0M205.0,375.6L206.9,379.5L208.0,383.4L209.0,386.1L210.0,389.4L211.6,389.4M203.4,358.5L207.0,357.8L209.9,355.8L213.1,355.5L213.3,359.9L215.8,362.5L219.3,363.9L221.7,365.2L224.7,365.9L225.8,372.2L230.0,372.5L230.7,375.6L232.4,377.4L231.6,381.6L231.2,382.4M231.2,382.4L228.8,380.3L223.0,381.1L222.0,383.4L221.8,387.9M221.8,387.9L218.1,389.4L215.9,387.6L213.3,386.8L211.6,389.4M211.6,389.4L209.6,393.9L209.8,398.6L208.5,404.3L208.1,408.3L208.4,413.5L210.0,417.4L209.9,421.8L210.0,426.5L211.0,431.7L211.2,436.9L212.9,442.1L215.3,447.2L216.0,452.4L215.9,457.4L217.7,461.7L219.4,462.5L221.0,465.0L225.0,465.0L228.4,465.8M228.5,466.8L230.8,472.2M221.8,387.9L225.8,392.1L230.6,394.7L233.9,396.2L232.5,400.9L237.0,401.2L238.6,401.5L240.7,396.8M231.2,382.4L232.4,387.6L237.2,388.1L238.3,392.6L241.0,392.6L240.7,396.8M240.7,396.8L242.8,399.1L243.0,400.9L239.5,403.8L235.6,408.8M235.6,408.8L235.1,413.5L235.5,418.4M235.6,408.8L239.4,410.3L243.1,413.0L245.7,415.6L246.4,417.9M208.8,326.8L212.0,327.8L215.5,325.2L215.5,323.4L217.1,324.2L214.4,319.5L218.3,320.0L221.4,318.7L223.3,316.3M223.3,316.3L221.9,314.2L222.5,312.4L224.3,311.4L225.2,307.7M223.3,316.3L224.8,318.1L225.5,320.8L225.0,323.9L227.0,326.5L229.3,326.0L232.8,324.9M232.8,324.9L231.0,321.3L229.4,319.5L231.1,316.3L231.4,314.2M232.8,324.9L234.2,324.7L237.4,323.9M237.4,323.9L238.2,320.8L237.8,316.8L238.7,314.8M237.4,323.9L241.1,324.2L244.0,318.4M344.4,220.6L345.9,220.0L349.2,220.6L350.0,221.3L348.5,222.9L348.2,225.0L347.1,226.5L348.1,228.3L347.4,230.2L347.2,232.8M359.3,216.7L361.6,218.0L364.6,218.5L366.7,219.0L369.8,219.3M378.7,215.6L379.1,214.6L377.4,213.8L377.5,211.8L377.1,210.3M377.1,210.3L375.8,209.2L375.6,208.5L377.4,206.4L378.6,205.9M378.6,205.9L378.5,204.1L379.6,202.4L376.0,201.1M376.0,201.1L374.8,201.1L372.7,199.8L371.5,199.8L369.3,197.8L368.1,197.0M369.8,196.3L371.6,196.3L373.2,196.3L374.6,197.0L374.4,197.8L375.0,197.8M375.0,197.8L375.7,199.1L375.3,199.6L376.0,201.1M375.0,197.8L375.2,195.8L376.5,195.0L376.9,194.0L377.2,191.8M379.7,187.6L381.4,187.8M390.9,190.1L391.3,191.8L390.8,192.8L392.1,194.5L392.2,196.0L392.9,197.3L392.5,197.6M392.5,197.6L391.5,197.3L389.1,198.8L387.5,199.1L388.2,200.3L389.3,201.6L391.0,202.9M391.0,202.9L389.4,204.1L389.1,205.7L387.9,205.9L385.5,206.4L383.9,206.7L382.6,206.2M382.6,206.2L380.6,205.7L378.6,205.9M382.6,206.2L382.7,207.2L384.6,207.7M377.1,210.3L377.5,210.3L379.3,210.0L380.5,209.0L381.6,210.5L382.2,208.7L383.8,209.2L384.6,207.7M384.6,207.7L385.6,208.0L388.0,207.2L388.5,208.2L391.2,208.7M391.2,208.7L391.1,210.3L391.3,211.0M391.2,208.7L393.8,208.5L396.0,207.8M396.0,207.8L396.7,206.4L397.9,205.7L397.8,204.9M391.0,202.9L393.3,202.4L397.2,203.1L397.8,204.9M392.5,197.6L395.0,198.3L396.8,198.8L398.5,199.1L400.9,201.1M400.9,201.1L399.6,202.1L397.8,202.6L397.2,203.1M400.9,201.1L403.0,201.8L403.5,201.6L405.3,201.3L408.4,202.1M397.8,204.9L401.1,205.4L403.0,204.4L404.6,203.6L407.8,203.9M407.8,203.9L408.4,202.1M408.4,202.1L408.7,200.8L411.0,198.6L409.8,196.0M409.8,196.0L409.5,193.3L409.6,190.1L408.8,189.9M408.8,189.9L407.2,188.8M407.2,188.8L401.4,188.7M407.2,188.8L406.8,187.3L404.0,186.7M403.3,184.6L405.0,183.9L408.8,184.1L410.8,184.4L414.0,185.6M414.0,185.6L414.1,187.1L412.8,187.6L412.5,189.3L408.8,189.9M414.0,185.6L416.9,184.5M416.9,184.5L415.4,181.7L414.8,181.2M408.7,180.2L410.6,180.0L413.1,181.2L414.8,181.2M414.8,181.2L414.5,178.8L414.2,177.6L415.2,176.6M416.9,184.5L420.5,185.4L422.3,185.9L422.5,187.8L424.9,189.8L426.9,191.3L424.5,191.8L425.8,194.5M425.8,194.5L423.6,196.5L420.5,195.8L416.5,195.5L412.5,195.0L409.8,196.0M425.8,194.5L429.6,194.0L433.7,197.3L434.0,198.8L438.0,199.1L441.3,200.3L443.6,200.8L443.4,202.9L443.9,205.1L441.0,205.9L441.1,207.2M409.6,204.9L413.7,205.7L417.0,204.3M417.0,204.3L419.3,203.6L422.2,204.9L423.6,207.7L424.8,209.0L422.3,209.0L421.2,211.3M417.0,204.3L419.1,206.2L420.6,208.0L421.2,211.3L424.4,212.0M407.8,203.9L409.6,204.9M409.6,204.9L407.2,207.4L406.2,209.2L404.8,209.6M404.8,209.6L402.0,210.3M402.0,210.3L399.5,210.3L396.9,208.7L396.0,207.8M396.7,208.5L395.3,209.5L394.6,211.3L393.0,211.3L391.1,211.3M402.4,212.8L398.2,212.0L395.7,212.0L396.3,214.6L399.9,217.7L401.9,219.0M402.0,210.3L402.4,212.8M402.4,212.8L403.4,214.4L403.4,216.4L401.9,218.7M404.8,209.6L407.3,212.0L407.6,213.1L409.7,213.3L410.3,214.6M410.3,214.6L411.0,215.6L416.2,216.0L419.2,214.9L422.7,215.9M410.3,214.6L409.8,216.4L411.2,217.5L410.1,219.5M411.4,222.0L414.4,221.6L416.5,222.1L418.4,221.6L418.6,221.1M418.6,221.1L421.0,220.3L422.0,220.3M418.6,221.1L419.3,222.1L418.3,223.7M405.7,226.3L407.0,224.7L407.6,223.3M407.6,223.3L409.6,222.6L411.4,222.0L410.1,219.5M407.6,223.3L406.3,221.6L406.4,220.3L405.2,218.7L403.9,220.6M406.4,220.3L408.3,219.5L410.1,219.5M403.4,216.4L405.6,217.7L405.2,218.7M405.2,218.7L406.6,217.2L408.6,218.5L408.3,219.5M383.7,177.3L384.9,175.9L386.1,174.5L385.3,172.1L384.9,168.1L387.5,165.8L388.4,162.3L389.9,160.5L391.2,157.8L393.5,155.8L397.2,155.8L397.6,154.3M397.6,154.3L400.1,154.9L402.7,155.1L406.1,154.0L406.3,152.5L409.5,152.1L411.6,154.0L411.5,154.3M411.5,154.3L414.4,153.1L414.4,152.7M397.6,154.3L403.0,156.9L403.8,159.3L405.2,161.6M411.5,154.3L411.2,155.5L414.0,157.3L412.9,159.1L415.3,161.8L415.3,163.9L417.0,165.3L419.5,168.3L416.7,171.6L414.1,173.9M349.0,187.2L347.8,188.8L349.5,189.6L350.9,189.6M446.6,216.7L450.9,217.2L454.9,218.7L458.6,219.0L461.0,220.6L463.4,222.1L465.2,220.7M450.7,221.6L453.0,221.6L455.1,222.6M455.1,222.6L458.2,222.2L461.4,222.6L461.0,220.6M458.2,222.2L459.8,223.9L461.1,226.3L462.5,228.3M455.1,222.6L456.0,225.2L458.5,226.3M458.5,226.3L457.6,228.3L458.5,230.9L459.6,232.9M458.5,226.3L462.5,228.3L465.4,226.5L466.6,229.4L467.9,229.6M459.6,232.9L454.5,233.0M454.5,233.0L450.8,233.0L446.9,234.1L443.0,234.1L442.3,235.1L441.1,236.1M454.5,233.0L452.4,234.8L452.8,239.0L448.0,242.7M448.0,242.7L444.0,245.5L441.6,244.4M441.3,239.4L442.4,239.8L443.0,240.6L441.6,242.7L441.6,244.4M440.0,243.5L441.6,242.7M441.2,244.5L441.3,247.6L440.7,252.9M438.6,248.2L440.5,252.9M448.0,242.7L449.3,245.9M449.3,245.9L444.6,247.6L447.1,250.2L446.2,251.5L443.3,253.6L440.8,253.2M449.3,245.9L452.0,246.6L456.0,248.7L462.3,253.6L466.4,253.9M466.4,253.9L468.0,251.3L469.4,251.5M466.4,253.9L468.6,254.2L470.8,255.3M459.6,232.9L461.4,235.9L463.5,238.2L462.5,241.1L464.4,243.7L468.3,246.8L468.4,248.9L470.5,251.5M460.7,287.1L461.4,284.5L464.4,284.5L469.0,285.0L471.3,285.5L474.4,281.3L481.1,280.3M481.1,280.3L487.7,277.7L488.9,272.4L487.6,270.6M487.6,270.6L481.7,270.0L479.1,266.7M477.2,265.3L478.1,265.7M487.6,270.6L488.0,268.3L488.6,266.7L488.8,264.9L489.6,264.7M488.7,261.9L489.1,262.9L489.5,263.0M481.1,280.3L484.1,286.4M479.2,232.4L481.1,232.2L483.7,230.4L486.0,230.2L488.9,231.7L490.7,232.0L493.6,234.3L495.3,234.3L495.9,236.9M495.9,236.9L495.3,240.3L495.4,241.9L497.3,247.6L499.3,247.9L498.0,251.9M498.0,251.9L501.8,253.1L504.4,258.9L503.5,260.4L501.3,264.1M501.8,253.1L505.3,253.1L510.0,251.8L509.7,249.2L512.6,247.9L515.6,246.6L515.0,243.7L517.0,242.9L515.9,241.1L518.2,240.3L518.5,237.2L517.2,235.6L520.6,233.5L524.4,232.6M495.9,236.9L498.4,237.7L500.0,236.1L502.6,235.1L504.3,232.2L506.3,232.4L509.2,232.8M509.2,232.8L512.5,233.0L514.1,231.7L514.8,229.6L516.5,230.9L517.7,234.1L520.9,232.1L524.4,232.6M506.3,232.4L502.3,229.1L497.2,226.0L493.9,222.4L489.9,221.8L489.2,219.8L485.8,218.2L483.5,222.1L481.4,222.1M481.4,222.1L478.9,212.6L483.8,211.0L489.7,214.1L492.4,216.4L498.3,215.9L501.4,217.7L501.9,220.3L504.0,222.4L506.9,222.6L507.3,223.4L508.7,221.8L512.0,219.6M481.4,222.1L478.1,220.2L474.3,220.0L473.7,220.8M512.0,219.6L512.2,218.2L517.3,219.0L517.0,217.5L521.6,218.2L528.8,218.2L531.6,219.8M531.6,219.8L528.7,221.6L525.6,223.0L523.1,223.9L520.2,226.0L520.1,226.9M520.1,226.9L521.1,229.1L523.6,229.6L524.4,232.6M520.1,226.9L516.3,227.3L513.3,226.5L510.8,226.8L510.8,225.2L512.8,225.0M512.0,219.6L513.5,221.6L515.8,222.9L517.9,223.4L515.4,225.0L512.8,225.0M512.8,225.0L509.9,223.7L508.8,225.0L507.6,226.8L509.8,230.2L509.2,232.8M463.6,209.0L462.4,208.5L458.4,204.4L457.2,203.9L457.7,201.8L456.6,199.1L460.5,200.1L460.4,198.3L463.4,195.5L466.5,195.5L469.1,196.0L472.7,198.1L475.4,197.3L479.6,197.3L485.5,197.8L481.7,195.3L483.0,192.5L481.7,190.1L485.7,189.3L489.4,189.1L494.5,187.3L499.1,186.6L501.2,189.3L505.9,189.8L508.3,190.8L511.4,189.3L515.3,191.5L522.4,197.8L528.5,197.3L534.4,200.8L538.9,202.0M538.9,202.0L536.8,203.9L537.8,207.2L532.4,206.9L533.5,212.0L529.1,213.1L531.9,217.2L531.6,219.8M539.9,201.9L546.3,197.8L552.2,199.6L558.2,200.3L559.2,198.6L557.2,196.0L559.4,194.8L565.8,196.5L567.6,198.6L574.9,199.1L581.3,201.3L586.4,201.5L589.7,200.3L592.0,199.2L597.0,200.2M539.9,201.9L542.7,204.4L548.7,207.7L551.0,212.0L556.5,212.8L561.2,214.4L565.1,218.4L572.7,218.6L577.4,219.8L583.2,220.8L584.5,221.3L588.7,219.1L593.7,218.6L596.2,215.9L594.6,214.4L594.7,212.6L598.3,213.2L598.8,212.6L602.3,209.2L603.5,208.5L608.2,208.2L605.1,205.7L602.7,205.8L597.9,205.1L597.3,202.9L597.0,200.2M597.0,200.2L599.8,201.1L601.6,199.6L600.6,195.5L600.4,193.3L598.6,192.8L600.4,191.5L604.0,190.9L608.9,192.2L610.6,193.3L618.8,200.3L626.6,202.6L628.9,205.7L632.5,205.7L635.8,203.9L636.3,206.7L638.1,212.3L635.3,211.8L634.1,212.8L637.0,216.4L637.2,219.3M637.2,219.3L634.9,217.8L634.3,220.3L632.5,220.4L630.4,220.8L629.8,223.1L627.7,225.7M635.4,231.3L635.4,229.9L637.9,229.1M607.2,273.6L604.0,272.4L603.4,270.1L600.3,269.0L597.5,271.1L594.3,270.6L593.6,271.4M593.6,271.4L593.1,274.5L591.7,273.6M591.7,273.6L589.0,273.2L587.1,272.2L586.2,269.6L582.9,267.2L584.3,262.5L582.8,257.8L580.1,256.0M580.1,256.0L576.2,253.4L572.9,253.6L570.2,256.3L568.2,257.3L567.2,257.0M561.6,258.9L563.1,256.3L567.2,257.0L568.7,258.6L568.7,259.8L564.3,260.0L561.8,259.8L561.6,258.9M541.2,254.7L542.4,251.0L545.1,251.3L549.7,254.2L553.4,255.7L555.8,256.8L559.4,257.0L560.2,261.0L555.4,260.4L551.0,258.3L547.1,257.6L543.4,255.7L541.2,254.7M559.4,257.0L560.9,256.6L561.6,258.9M542.4,251.0L538.6,248.9L536.8,247.6L536.4,245.0L537.4,243.7L535.5,242.4L535.4,240.3L532.4,237.2L527.7,235.9L525.8,233.5L524.4,232.6M516.6,268.0L522.5,266.2L520.2,262.5L518.4,259.9L520.0,256.8L523.3,257.0L525.7,251.8L527.5,248.7L526.9,245.0L526.0,243.7L524.1,240.3L528.2,239.5L532.4,237.2M564.1,272.4L563.2,269.3L561.0,265.4L561.5,263.3L560.8,261.5L563.1,262.0L564.5,263.8L570.1,264.6L570.6,264.9L568.3,267.2L568.8,269.3L570.0,268.5L572.2,272.5L572.0,275.8M572.2,272.5L573.5,271.9L572.8,267.5L575.0,267.2L575.5,263.6L576.0,260.7L577.8,258.6L579.7,258.9L580.1,256.0M589.7,303.3L591.4,299.1L589.9,294.6L587.4,290.7L587.9,287.3L585.3,283.4L585.3,281.6L587.5,278.2L589.8,276.8M589.8,276.8L590.7,275.3L591.7,273.6M589.8,276.8L591.0,279.0L592.6,279.0L593.5,283.4L595.2,282.6L598.0,281.8L601.3,284.2L602.0,287.3L604.1,289.4L604.3,292.3L603.6,292.6M603.6,292.6L598.6,292.6L597.6,294.4L599.0,299.3M603.6,292.6L605.5,293.6L608.7,291.5M593.6,271.4L596.6,275.6L599.9,276.1L599.2,278.7L602.0,281.1L605.6,285.5L608.3,288.1L608.8,290.2L608.7,291.5M608.7,291.5L609.4,297.5L606.1,299.3L606.1,301.2L602.9,302.7M593.5,312.9L595.7,314.8L595.9,315.0L598.2,313.7M616.0,324.7L618.0,327.5L621.0,327.3L623.7,326.0L627.4,326.0L628.3,322.6L629.7,318.9L634.1,318.9M626.0,317.9L627.2,319.5L628.8,318.7L628.5,316.8M688.2,336.7L687.1,353.7M650.3,353.3L650.5,354.4M358.3,238.2L359.2,239.8L359.4,242.4L360.5,245.3L356.5,247.1L354.9,249.2L352.0,251.5L348.7,252.6L343.8,254.9L343.7,258.6M343.7,257.6L333.7,257.6M343.7,258.6L343.6,262.0L336.2,262.0L336.1,268.7L333.8,269.8L333.7,274.2L324.8,274.2M343.7,258.6L352.3,264.6M352.3,264.6L348.6,264.7L349.6,276.0L350.6,287.3L351.0,287.6L350.5,289.4L341.3,289.4L338.8,290.4L337.2,289.7L336.1,291.2L335.3,291.7M335.3,291.7L333.9,289.9L332.5,287.9L330.1,286.5L327.8,286.8L325.5,287.9M335.3,291.7L335.6,294.4L337.0,297.5M324.7,294.4L328.1,293.9L331.5,294.6L328.3,295.4L324.6,295.7M324.8,297.6L328.7,296.9L331.7,296.9M331.7,296.9L334.9,297.6L337.0,297.5M331.7,296.9L331.7,299.3L329.4,299.9L328.7,301.3M337.0,297.5L339.7,298.8L342.5,297.5L344.1,301.2L344.7,303.3M332.5,306.3L334.4,304.0L337.4,303.8L338.7,306.1L339.4,307.7M339.4,307.7L341.5,310.6L343.5,310.1M343.5,310.1L345.4,308.0L344.7,303.3M339.4,307.7L336.6,311.9M343.5,310.1L344.0,313.2L345.8,314.8L345.7,318.4M344.7,303.3L348.9,302.0L350.5,302.7M350.5,302.7L352.8,304.6L356.9,305.1M356.9,305.1L356.7,309.0L355.7,312.9L356.4,316.6M356.9,305.1L356.4,301.2L362.6,300.9M362.6,300.9L363.8,303.8L364.2,307.7L364.5,311.6L365.9,314.0M365.2,301.2L366.5,305.1L366.9,313.7M362.6,300.9L365.2,301.2M365.2,301.2L367.7,298.8L368.6,297.8M368.6,297.8L369.5,297.5L371.4,299.3M371.4,299.3L371.6,302.5L369.5,306.4L369.3,313.2M350.5,302.7L350.9,299.6L353.0,297.3L353.9,294.9L356.5,293.3L358.5,292.8L361.5,290.6L363.6,290.9M363.6,290.9L365.4,294.9L368.1,297.0L368.6,297.8M363.6,290.9L366.3,289.9L371.3,289.4L372.7,286.0L372.7,279.9M352.3,264.6L365.7,274.8L367.2,276.9L370.4,278.4L370.6,280.3L372.7,279.9M372.7,279.9L376.3,279.1L380.1,275.4L390.1,268.5M390.1,268.5L386.3,266.2L384.1,261.5L385.2,258.1L384.9,254.2L384.1,251.0M384.1,251.0L382.9,246.1L379.7,243.2L381.0,239.5L381.1,235.9L381.7,233.5M384.1,251.0L385.8,247.1L388.4,245.3L388.3,243.3M390.1,268.5L395.1,270.9L396.9,269.8M396.9,269.8L417.5,279.0M417.5,279.0L417.5,277.7L419.7,277.7L419.6,272.4M419.6,272.4L418.6,253.6L417.8,251.3L418.5,247.2M419.6,272.4L446.4,272.4M396.9,269.8L398.2,275.1L399.1,276.6L398.4,285.8L394.2,292.0L394.0,294.1M371.4,299.3L372.5,294.6L375.7,293.6L379.1,295.9L383.7,296.5L388.3,294.9L391.7,295.7L394.0,294.1M394.0,294.1L395.6,296.5L396.6,299.9L393.4,303.8L392.5,306.9L390.3,311.6L387.3,311.6L384.5,313.2L382.7,317.6M395.6,296.5L397.5,298.3L397.5,301.4L398.7,303.8L395.3,304.0L398.1,309.0L398.8,310.3M398.8,310.3L402.2,309.8L405.9,308.7L407.0,306.4L410.0,306.1L412.9,302.2L415.6,301.3M415.6,301.3L414.6,297.0L413.4,293.9L414.8,292.8L415.6,288.9L417.9,288.9L417.5,279.0M415.6,301.3L417.5,304.0L417.1,306.9L418.7,307.2M418.7,307.2L420.5,303.0L424.0,304.8L427.4,305.4L430.8,303.8L434.3,304.3L437.4,299.3L439.2,298.0L439.1,302.0L441.2,305.1M441.2,305.1L441.8,302.2L443.3,299.1L445.8,296.7L446.3,292.3M446.3,292.3L447.2,287.3L449.6,284.2L450.9,282.9M446.3,292.3L449.7,291.0L452.2,291.8L456.6,293.1L460.2,297.3M461.8,296.7L460.2,297.3L459.0,301.2L461.7,299.9L462.3,299.9M461.5,301.4L463.0,305.4L464.5,306.7L471.2,309.0L473.5,309.0L466.8,316.8L463.3,317.4L459.9,319.2L459.7,319.6M459.7,319.6L457.1,318.9L454.8,320.0L450.9,320.5L447.9,318.4L446.1,318.1M446.1,318.1L444.4,315.8L443.0,312.4L439.0,309.3L441.0,307.7L441.2,305.1M459.7,319.6L457.6,322.6L457.7,332.3L458.9,334.3M446.1,318.1L441.5,318.9M441.5,318.9L442.6,321.5L443.8,325.5L441.8,328.9L441.3,332.5M441.3,332.5L449.8,337.7L450.0,339.0L453.4,342.2M441.5,318.9L438.0,320.2L434.6,320.2L434.2,320.8M434.2,320.8L435.3,324.2L433.2,325.7L432.1,328.3L431.4,331.5L431.4,333.4M441.3,332.5L433.3,332.6M431.4,333.4L433.3,332.6L434.1,335.9L432.1,335.9L430.0,337.0L430.4,334.1L431.4,333.4M430.0,337.0L432.1,335.9L434.1,335.9L433.4,339.0L430.8,341.5L430.4,338.5L430.0,337.0M430.8,341.5L431.0,345.6L433.7,351.3M433.7,351.3L438.7,354.4M438.7,354.4L441.2,354.7L442.3,356.0L442.4,360.2M442.4,360.2L446.8,360.5L451.4,359.4L456.0,357.8M442.4,360.2L443.0,365.2L445.1,368.8L443.5,373.0L443.5,374.6L441.5,372.5L441.5,367.5L439.3,366.5L439.0,366.5M439.0,366.5L437.9,365.4L439.2,362.5L439.5,358.1L438.7,354.4M433.7,351.3L429.5,352.1L428.4,354.2L428.8,356.5L428.2,360.7L430.2,362.3L431.4,361.8L431.3,364.9L429.2,364.9L425.9,362.0L421.4,359.2L419.3,359.7L418.2,358.4M418.2,358.4L418.1,363.9L413.5,363.9L413.3,372.2L416.3,375.9M420.6,376.4L424.5,376.9L429.0,371.7L432.5,370.8M432.5,370.8L432.1,368.6L439.0,366.5M432.5,370.8L434.5,371.7L438.1,373.5L437.6,378.2L437.9,381.6L436.4,385.5L433.7,388.4M433.7,388.4L429.5,387.9M429.5,387.9L425.8,383.4L422.5,380.8L420.6,376.4M390.0,375.1L393.8,374.3L395.4,375.3L405.0,375.3L411.8,376.6L416.3,375.9L420.6,376.4M420.6,376.4L418.1,376.9L416.1,376.9L410.8,377.7L410.5,387.4L408.3,387.4L408.0,394.7M408.0,394.7L407.6,404.1L405.3,405.4L401.8,404.9L399.8,404.6M408.0,394.7L409.6,399.9L413.7,397.8L418.4,397.3L421.3,394.4L423.9,391.5L429.5,387.9M433.7,388.4L435.0,393.9L434.6,397.5L434.8,400.0L436.6,400.0M432.0,398.6L433.5,397.0L435.0,398.1L434.6,400.9L432.3,400.9L432.0,398.6M423.0,407.2L426.7,404.6L428.3,407.2L426.1,409.8L423.7,409.0L423.0,407.2M391.4,345.6L393.5,345.3L401.3,345.3L402.2,349.0L407.5,350.5L409.1,348.2L413.3,349.0L413.4,355.0L414.3,359.2L418.2,358.4M391.2,345.0L393.1,341.9L391.4,342.4L390.5,343.0M393.1,341.9L396.3,342.7L398.1,341.1L400.5,335.6L404.2,331.2L404.8,324.2L406.0,320.8M388.7,340.2L390.8,336.2L396.3,335.6L396.3,333.3L395.2,329.6L396.1,326.2L393.8,326.5L393.5,324.2M393.5,324.2L389.2,324.2L389.2,327.3L385.7,327.3M385.7,323.9L389.2,324.2M393.5,324.2L400.2,325.5L400.5,324.2M400.5,324.2L397.7,320.0L396.5,316.1L396.7,313.7L398.8,310.3M400.5,324.2L401.4,320.8L406.0,320.8M406.0,320.8L406.0,318.4L408.0,316.6L414.7,319.2L415.9,317.4L419.5,316.6L421.4,316.3L426.2,316.6M426.2,316.6L424.1,314.2L421.1,310.3L418.7,307.2M426.2,316.6L428.5,318.7L431.8,318.1L434.2,320.8" fill="none" stroke="#bdbdbd" stroke-width="0.55" stroke-linejoin="round" stroke-linecap="round"/>
<path d="M479.1,266.7L481.2,266.7L484.6,267.0L485.6,265.9L487.2,263.8L488.7,261.9L489.1,262.9L489.5,263.0L489.6,264.7L488.8,264.9L488.6,266.7L488.0,268.3L487.6,270.6L481.7,270.0Z" fill="#081d58" stroke="#b4b4b4" stroke-width="0.3"/>
</g>
<g id="legend">
<rect x="98.2" y="537.4" width="48.3" height="10.800000000000068" fill="url(#nd)" stroke="#999" stroke-width="0.4"/>
<line x1="122.3" y1="533.5" x2="122.3" y2="537.4" stroke="#8f8f8f" stroke-width="0.5"/>
<text x="122.3" y="530" text-anchor="middle" class="lt">No data</text>
<rect x="166.00" y="537.4" width="58.5" height="10.800000000000068" fill="#ffffd9" stroke="#999" stroke-width="0.4"/>
<rect x="224.50" y="537.4" width="58.5" height="10.800000000000068" fill="#edf8b1" stroke="#999" stroke-width="0.4"/>
<rect x="283.00" y="537.4" width="58.5" height="10.800000000000068" fill="#c7e9b4" stroke="#999" stroke-width="0.4"/>
<rect x="341.50" y="537.4" width="58.5" height="10.800000000000068" fill="#7fcdbb" stroke="#999" stroke-width="0.4"/>
<rect x="400.00" y="537.4" width="58.5" height="10.800000000000068" fill="#41b6c4" stroke="#999" stroke-width="0.4"/>
<rect x="458.50" y="537.4" width="58.5" height="10.800000000000068" fill="#1d91c0" stroke="#999" stroke-width="0.4"/>
<rect x="517.00" y="537.4" width="58.5" height="10.800000000000068" fill="#225ea8" stroke="#999" stroke-width="0.4"/>
<rect x="575.50" y="537.4" width="58.5" height="10.800000000000068" fill="#253494" stroke="#999" stroke-width="0.4"/>
<rect x="634.00" y="537.4" width="58.5" height="10.800000000000068" fill="#172976" stroke="#999" stroke-width="0.4"/>
<path d="M692.50,537.4 L745.50,537.4 L751.00,542.8 L745.50,548.2 L692.50,548.2 Z" fill="#081d58" stroke="#999" stroke-width="0.4"/>
<line x1="166.00" y1="533.5" x2="166.00" y2="548.2" stroke="#8f8f8f" stroke-width="0.45"/>
<text x="166.00" y="530" text-anchor="middle" class="lt">0 t</text>
<line x1="224.50" y1="533.5" x2="224.50" y2="548.2" stroke="#8f8f8f" stroke-width="0.45"/>
<text x="224.50" y="530" text-anchor="middle" class="lt">10 t</text>
<line x1="283.00" y1="533.5" x2="283.00" y2="548.2" stroke="#8f8f8f" stroke-width="0.45"/>
<text x="283.00" y="530" text-anchor="middle" class="lt">20 t</text>
<line x1="341.50" y1="533.5" x2="341.50" y2="548.2" stroke="#8f8f8f" stroke-width="0.45"/>
<text x="341.50" y="530" text-anchor="middle" class="lt">30 t</text>
<line x1="400.00" y1="533.5" x2="400.00" y2="548.2" stroke="#8f8f8f" stroke-width="0.45"/>
<text x="400.00" y="530" text-anchor="middle" class="lt">40 t</text>
<line x1="458.50" y1="533.5" x2="458.50" y2="548.2" stroke="#8f8f8f" stroke-width="0.45"/>
<text x="458.50" y="530" text-anchor="middle" class="lt">50 t</text>
<line x1="517.00" y1="533.5" x2="517.00" y2="548.2" stroke="#8f8f8f" stroke-width="0.45"/>
<text x="517.00" y="530" text-anchor="middle" class="lt">60 t</text>
<line x1="575.50" y1="533.5" x2="575.50" y2="548.2" stroke="#8f8f8f" stroke-width="0.45"/>
<text x="575.50" y="530" text-anchor="middle" class="lt">70 t</text>
<line x1="634.00" y1="533.5" x2="634.00" y2="548.2" stroke="#8f8f8f" stroke-width="0.45"/>
<text x="634.00" y="530" text-anchor="middle" class="lt">80 t</text>
<line x1="692.50" y1="533.5" x2="692.50" y2="548.2" stroke="#8f8f8f" stroke-width="0.45"/>
<text x="692.50" y="530" text-anchor="middle" class="lt">90 t</text>
</g>
</svg>
<h1 id="title"><span id="tm">Share of marine territorial waters that are protected,</span><span id="yr">202</span><span id="yr3">3</span></h1>
<p id="sub"><span id="s1">Marine protected areas are regions of intertidal or sub-tidal land and associated water, flora and fauna, and</span><span id="s2">cultural and historical features that have been legally or effectively reserved for protection.</span></p>
<div id="logo"><div>Our World<br>in Data</div></div>
<div id="foot-l"><b>Data source:</b> Food and Agriculture Organization of the United Nations (2025)</div>
<div id="foot-r">OurWorldinData.org/biodiversity | CC BY</div>
</body></html>
